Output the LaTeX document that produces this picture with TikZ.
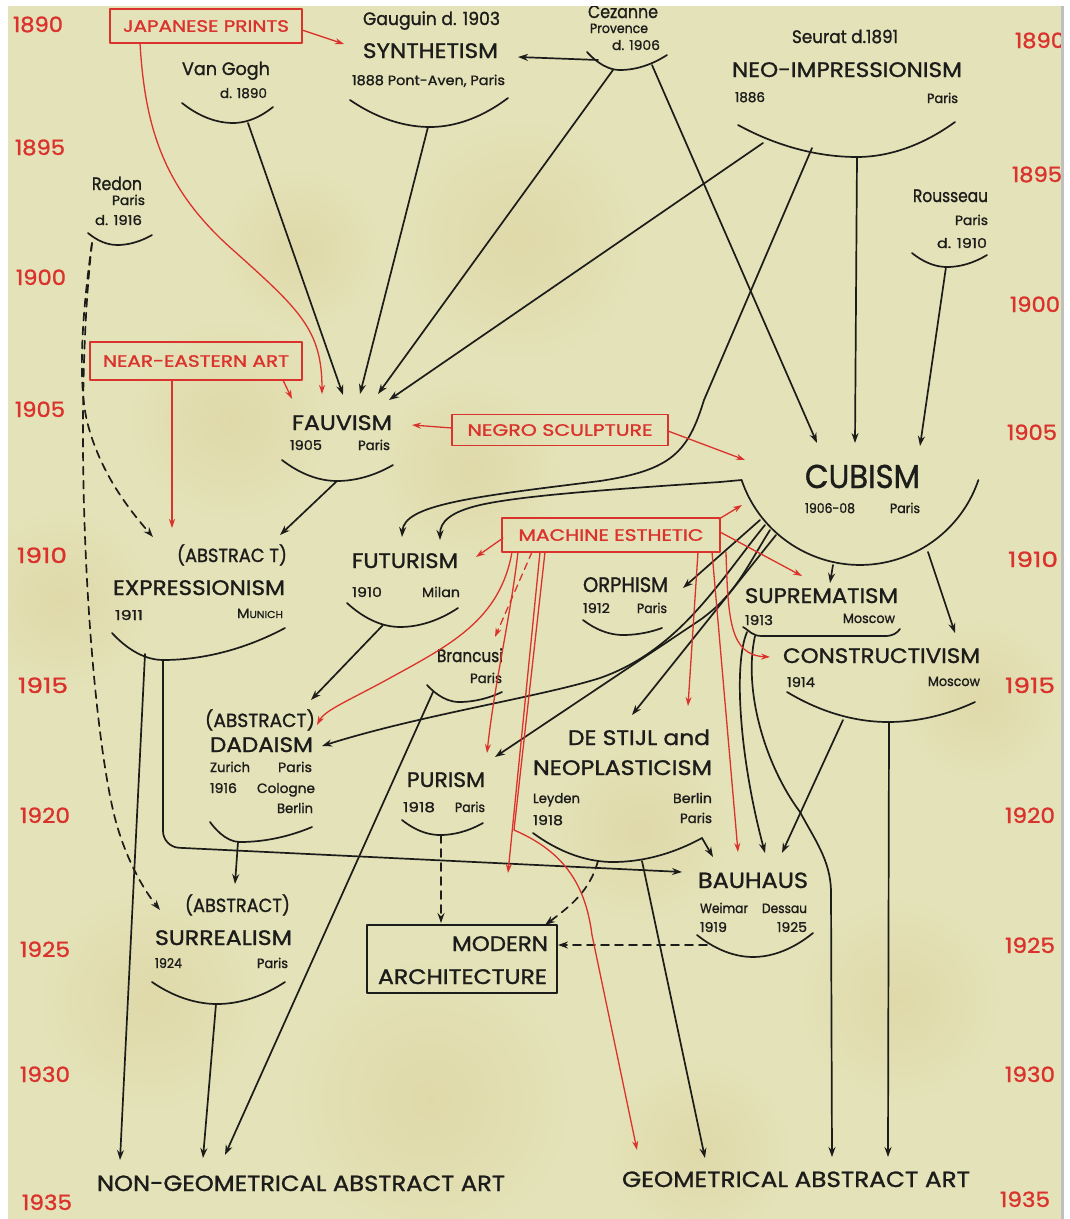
\documentclass[tikz,border=0pt]{standalone}
\usepackage{fontspec}
\setmainfont{Poppins}[FakeBold=1.2]
\usepackage{graphicx}
\usetikzlibrary{arrows.meta}
\definecolor{paper}{RGB}{228,226,184}
\definecolor{stain}{RGB}{214,198,138}
\definecolor{ink}{RGB}{28,28,26}
\definecolor{rink}{RGB}{218,50,44}
\newcommand\fw[2]{\resizebox{#1pt}{\height}{#2}}
\newcommand\fsm{\fontsize{13.5}{14}\selectfont}
\newcommand\fnm{\fontsize{18}{18}\selectfont}
\newcommand\fmv{\fontsize{21}{21}\selectfont}
\newcommand\fab{\fontsize{19}{19}\selectfont}
\newcommand\fyr{\fontsize{21}{21}\selectfont}
\newcommand\fbx{\fontsize{16.5}{17}\selectfont}
\newcommand\fcu{\fontsize{33}{33}\selectfont}
\newcommand\fbig{\fontsize{22}{22}\selectfont}
\begin{document}
\begin{tikzpicture}[x=1pt,y=-1pt,line cap=round,line join=round,
 blk/.style={draw=ink,line width=1.7pt},
 ar/.style={blk,-{Stealth[length=10pt,width=7pt]}},
 dar/.style={ar,dash pattern=on 8pt off 6pt},
 rar/.style={draw=rink,line width=1.3pt,-{Stealth[length=9pt,width=6pt]}},
 rdar/.style={rar,dash pattern=on 7pt off 5pt},
 lbl/.style={anchor=base west,inner sep=0pt,outer sep=0pt,text=ink},
 yr/.style={lbl,text=rink,font=\fyr},
 sm/.style={lbl,font=\fsm},
 nm/.style={lbl,font=\fnm},
 mv/.style={lbl,font=\fmv},
 ab/.style={lbl,font=\fab},
 rbox/.style={draw=rink,line width=1.4pt,text=rink,font=\fbx,inner sep=0pt},
]
\useasboundingbox (0,0) rectangle (1069,1219);
\fill[paper] (0,0) rectangle (1069,1219);
% stains
\foreach \sx/\sy/\sr in {520/240/120, 470/470/90, 230/420/100, 60/600/90, 150/1000/110, 430/1100/140, 640/830/90, 980/700/80, 900/1000/100, 300/250/80, 700/1150/90}
  \shade[inner color=stain,outer color=paper,opacity=0.3] (\sx,\sy) circle (\sr);

% years
\foreach \x/\y/\t in {13/32/1890,15/155/1895,16/285/1900,15/417/1905,17/563/1910,18/693/1915,20/823/1920,20/957/1925,20/1082/1930,22/1210/1935}
  \node[yr] (yl\t) at (\x,\y) {\fw{50}{\t}};
\foreach \x/\y/\t in {1015/48/1890,1012/182/1895,1010/312/1900,1007/440/1905,1008/567/1910,1005/693/1915,1005/823/1920,1005/953/1925,1005/1082/1930,1000/1207/1935}
  \node[yr] (yr\t) at (\x,\y) {\fw{50}{\t}};

% red boxes
\node[rbox,minimum width=192pt,minimum height=34pt] (jap) at (206,26) {\fw{166}{JAPANESE PRINTS}};
\node[rbox,minimum width=212pt,minimum height=38pt] (near) at (196,361) {\fw{186}{NEAR-EASTERN ART}};
\node[rbox,minimum width=216pt,minimum height=31pt] (negro) at (560,430) {\fw{185}{NEGRO SCULPTURE}};
\node[rbox,minimum width=218pt,minimum height=34pt] (mach) at (611,535) {\fw{185}{MACHINE ESTHETIC}};
\node[draw=ink,line width=1.5pt,minimum width=190pt,minimum height=68pt,inner sep=0pt] (modbox) at (462,959) {};

% texts
\node[nm] (vg) at (182,75) {\fw{88}{Van Gogh}};
\node[sm] (vgd) at (220,98) {\fw{47}{d. 1890}};
\node[nm] (gau) at (363,25) {\fw{137}{Gauguin d. 1903}};
\node[mv] (syn) at (363,58) {\fw{135}{SYNTHETISM}};
\node[sm] (synd) at (352,85) {\fw{153}{1888 Pont-Aven, Paris}};
\node[nm] (cez) at (588,18) {\fw{70}{Cezanne}};
\node[sm] (cezp) at (590,33) {\fw{58}{Provence}};
\node[sm] (cezd) at (612,50) {\fw{48}{d. 1906}};
\node[nm] (seu) at (792,43) {\fw{106}{Seurat d.1891}};
\node[mv] (neo) at (732,77) {\fw{230}{NEO-IMPRESSIONISM}};
\node[sm] (neod) at (735,102) {\fw{30}{1886}};
\node[sm] (neop) at (927,103) {\fw{31}{Paris}};
\node[nm] (red) at (92,190) {\fw{50}{Redon}};
\node[sm] (redp) at (112,205) {\fw{33}{Paris}};
\node[sm] (redd) at (95,225) {\fw{47}{d. 1916}};
\node[nm] (rou) at (913,202) {\fw{75}{Rousseau}};
\node[sm] (roup) at (955,225) {\fw{33}{Paris}};
\node[sm] (roud) at (937,248) {\fw{50}{d. 1910}};
\node[mv] (fauv) at (292,430) {\fw{100}{FAUVISM}};
\node[sm] (fauvd) at (290,450) {\fw{32}{1905}};
\node[sm] (fauvp) at (358,450) {\fw{32}{Paris}};
\node[lbl,font=\fcu] (cub) at (805,488) {\fw{115}{CUBISM}};
\node[sm] (cubd) at (805,513) {\fw{50}{1906-08}};
\node[sm] (cubp) at (890,513) {\fw{30}{Paris}};
\node[ab] (expa) at (177,562) {\fw{110}{(ABSTRAC T)}};
\node[mv] (exp) at (113,595) {\fw{172}{EXPRESSIONISM}};
\node[sm] (expd) at (115,620) {\fw{28}{1911}};
\node[sm] (expp) at (237,618) {\fw{46}{M{\fontsize{10}{10}\selectfont UNICH}}};
\node[mv] (fut) at (352,568) {\fw{106}{FUTURISM}};
\node[sm] (futd) at (352,597) {\fw{30}{1910}};
\node[sm] (futp) at (422,597) {\fw{38}{Milan}};
\node[mv] (orph) at (583,592) {\fw{85}{ORPHISM}};
\node[sm] (orphd) at (583,613) {\fw{27}{1912}};
\node[sm] (orphp) at (637,613) {\fw{30}{Paris}};
\node[mv] (supr) at (745,603) {\fw{153}{SUPREMATISM}};
\node[sm] (suprd) at (745,625) {\fw{28}{1913}};
\node[sm] (suprp) at (843,623) {\fw{52}{Moscow}};
\node[mv] (cons) at (783,663) {\fw{197}{CONSTRUCTIVISM}};
\node[sm] (consd) at (787,687) {\fw{28}{1914}};
\node[sm] (consp) at (928,686) {\fw{52}{Moscow}};
\node[nm] (bra) at (437,662) {\fw{66}{Brancusi}};
\node[sm] (brap) at (470,683) {\fw{32}{Paris}};
\node[ab] (dadaa) at (205,727) {\fw{110}{(ABSTRACT)}};
\node[mv] (dada) at (210,752) {\fw{103}{DADAISM}};
\node[sm] (dadaz) at (210,772) {\fw{40}{Zurich}};
\node[sm] (dadap) at (278,772) {\fw{34}{Paris}};
\node[sm] (dadad) at (210,793) {\fw{27}{1916}};
\node[sm] (dadac) at (257,793) {\fw{58}{Cologne}};
\node[sm] (dadab) at (277,813) {\fw{36}{Berlin}};
\node[mv] (pur) at (407,787) {\fw{78}{PURISM}};
\node[sm] (purd) at (403,812) {\fw{32}{1918}};
\node[sm] (purp) at (455,812) {\fw{30}{Paris}};
\node[mv] (stij) at (568,745) {\fw{142}{DE STIJL and}};
\node[mv] (neopl) at (533,775) {\fw{179}{NEOPLASTICISM}};
\node[sm] (stl) at (533,803) {\fw{47}{Leyden}};
\node[sm] (std) at (533,825) {\fw{30}{1918}};
\node[sm] (stb) at (673,803) {\fw{39}{Berlin}};
\node[sm] (stp) at (680,823) {\fw{32}{Paris}};
\node[lbl,font=\fbig] (bau) at (698,888) {\fw{110}{BAUHAUS}};
\node[sm] (bauw) at (700,913) {\fw{48}{Weimar}};
\node[sm] (baude) at (762,913) {\fw{45}{Dessau}};
\node[sm] (baud1) at (700,932) {\fw{27}{1919}};
\node[sm] (baud2) at (777,932) {\fw{30}{1925}};
\node[ab] (sura) at (185,912) {\fw{105}{(ABSTRACT)}};
\node[mv] (sur) at (155,945) {\fw{137}{SURREALISM}};
\node[sm] (surd) at (155,968) {\fw{27}{1924}};
\node[sm] (surp) at (257,968) {\fw{31}{Paris}};
\node[lbl,font=\fmv] (mod1) at (452,951) {\fw{96}{MODERN}};
\node[lbl,font=\fmv] (mod2) at (378,984) {\fw{169}{ARCHITECTURE}};
\node[lbl,font=\fbig] (ngeo) at (97,1191) {\fw{408}{NON-GEOMETRICAL ABSTRACT ART}};
\node[lbl,font=\fbig] (geo) at (622,1187) {\fw{348}{GEOMETRICAL ABSTRACT ART}};

% arcs
\draw[blk] (182,103) parabola bend (233,123) (273,107);
\draw[blk] (350,100) parabola bend (430,127) (508,98);
\draw[blk] (587,52) parabola bend (620,70) (667,55);
\draw[blk] (738,125) parabola bend (857,157) (955,122);
\draw[blk] (88,233) parabola bend (117,245) (152,235);
\draw[blk] (912,253) parabola bend (947,267) (987,255);
\draw[blk] (282,460) parabola bend (337,481) (393,465);
\coordinate (cubL) at (741.6,480);
\draw[blk] (cubL) arc[start angle=161.3,end angle=18.7,radius=125];
\draw[blk] (743,627) .. controls (750,631) and (752,636) .. (762,636) -- (885,636) .. controls (893,636) and (897,633) .. (900,629);
\draw[blk] (787,692) parabola bend (888,722) (975,702);
\draw[blk] (583,620) parabola bend (623,635) (662,628);
\draw[blk] (347,603) parabola bend (400,627) (458,608);
\draw[blk] (427,685) parabola bend (459,702) (502,692);
\draw[blk] (112,633) parabola bend (163,660) (285,628);
\draw[blk] (210,822) parabola bend (240,842) (312,827);
\draw[blk] (152,982) parabola bend (217,1004) (285,982);
\draw[blk] (402,820) parabola bend (440,835) (483,823);
\draw[blk] (533,833) parabola bend (613,862) (702,838);
\draw[blk] (697,935) parabola bend (753,957) (813,933);

% sources
\coordinate (vgS) at (248,123);
\coordinate (synS) at (428,127);
\coordinate (cezS1) at (613,70);
\coordinate (cezS2) at (598,60);
\coordinate (cezS3) at (652,65);
\coordinate (neoS1) at (763,143);
\coordinate (neoS2) at (812,148);
\coordinate (neoS3) at (857,157);
\coordinate (rouS) at (946,267);
\coordinate (redS) at (92,243);
\coordinate (fauvS) at (337,481);
\coordinate (cubS1) at (833,565);
\coordinate (cubS2) at (928,552);
\coordinate (cubO) at (760,520);
\coordinate (cubD) at (765,525);
\coordinate (cubP) at (770,530);
\coordinate (cubN) at (776,535);
\coordinate (suprS1) at (747,632);
\coordinate (suprS2) at (755,636);
\coordinate (consS1) at (843,720);
\coordinate (consS2) at (889,722);
\coordinate (futS) at (383,625);
\coordinate (expS1) at (145,654);
\coordinate (expS2) at (163,660);
\coordinate (dadaS) at (238,842);
\coordinate (surS) at (216,1004);
\coordinate (brS) at (433,692);
\coordinate (purS) at (441,835);
\coordinate (stS1) at (702,838);
\coordinate (stS2) at (598,861);
\coordinate (stS3) at (642,861);
\coordinate (bauS) at (707,945);
\coordinate (japS1) at (140,43);
\coordinate (japS2) at (302,30);
\coordinate (nearS1) at (283,380);
\coordinate (nearS2) at (172,380);
\coordinate (negS1) at (452,428);
\coordinate (negS2) at (668,431);
\coordinate (mFut) at (503,538);
\coordinate (mCub) at (719,519);
\coordinate (mSup) at (720,532);
\coordinate (mCon) at (726,552);
\coordinate (mBau) at (712,552);
\coordinate (mSt) at (698,552);
\coordinate (mPur) at (518,552);
\coordinate (mBr) at (532,552);
\coordinate (mDad) at (512,552);
\coordinate (mMod) at (540,552);
\coordinate (mGeo) at (545,552);
% targets
\coordinate (fauvT1) at (292,399);
\coordinate (fauvT2) at (322,394);
\coordinate (fauvT3) at (343,395);
\coordinate (fauvT4) at (360,394);
\coordinate (fauvT5) at (378,394);
\coordinate (fauvT6) at (389,400);
\coordinate (fauvT7) at (412,425);
\coordinate (synT) at (518,57);
\coordinate (synT2) at (344,44);
\coordinate (cubT1) at (817,443);
\coordinate (cubT2) at (855,443);
\coordinate (cubT3) at (920,446);
\coordinate (cubT4) at (745,460);
\coordinate (cubT5) at (742,505);
\coordinate (futT1) at (402,537);
\coordinate (futT2) at (440,540);
\coordinate (futT3) at (476,557);
\coordinate (expT1) at (153,537);
\coordinate (expT2) at (172,528);
\coordinate (expT3) at (280,535);
\coordinate (orT) at (683,588);
\coordinate (supT1) at (830,583);
\coordinate (supT2) at (802,576);
\coordinate (conT1) at (955,633);
\coordinate (conT2) at (770,657);
\coordinate (brT) at (495,637);
\coordinate (dadT1) at (311,700);
\coordinate (dadT2) at (317,725);
\coordinate (dadT3) at (322,746);
\coordinate (purT1) at (487,753);
\coordinate (purT2) at (495,757);
\coordinate (stT1) at (688,706);
\coordinate (stT2) at (632,715);
\coordinate (surT1) at (235,884);
\coordinate (surT2) at (160,910);
\coordinate (bauT1) at (682,872);
\coordinate (bauT2) at (713,857);
\coordinate (bauT3) at (738,852);
\coordinate (bauT4) at (765,853);
\coordinate (bauT5) at (782,853);
\coordinate (modT1) at (441,923);
\coordinate (modT2) at (545,925);
\coordinate (modT3) at (558,945);
\coordinate (modT4) at (508,873);
\coordinate (ngT1) at (120,1160);
\coordinate (ngT2) at (203,1158);
\coordinate (ngT3) at (225,1155);
\coordinate (gT1) at (637,1150);
\coordinate (gT2) at (705,1158);
\coordinate (gT3) at (832,1157);
\coordinate (gT4) at (888,1157);

% black connectors
\draw[ar] (vgS) -- (fauvT3);
\draw[ar] (synS) -- (fauvT4);
\draw[ar] (cezS1) -- (fauvT5);
\draw[ar] (neoS1) -- (fauvT6);
\draw[ar] (cezS2) -- (synT);
\draw[ar] (cezS3) -- (cubT1);
\draw[ar] (neoS3) -- (cubT2);
\draw[ar] (rouS) -- (cubT3);
\draw[ar] (neoS2) -- (704,400) .. controls (688,452) and (672,470) .. (600,481) .. controls (470,497) and (404,505) .. (futT1);
\draw[ar] (cubL) -- (720,482) .. controls (600,490) and (520,496) .. (480,505) .. controls (450,512) and (440,522) .. (futT2);
\draw[ar] (fauvS) -- (expT3);
\draw[ar] (cubS1) -- (supT1);
\draw[ar] (cubS2) -- (conT1);
\draw[ar] (cubO) -- (orT);
\draw[ar] (cubD) .. controls (720,580) and (680,650) .. (600,678) .. controls (540,697) and (420,715) .. (dadT3);
\draw[ar] (cubP) .. controls (745,570) and (735,595) .. (700,620) -- (purT2);
\draw[ar] (cubN) -- (stT2);
\draw[ar] (futS) -- (dadT1);
\draw[ar] (expS1) -- (ngT1);
\draw[ar,rounded corners=16pt] (expS2) -- (163,847) -- (bauT1);
\draw[ar] (dadaS) -- (surT1);
\draw[ar] (surS) -- (ngT2);
\draw[ar] (brS) -- (ngT3);
\draw[ar] (stS1) -- (bauT2);
\draw[ar] (stS3) -- (gT2);
\draw[ar] (suprS1) .. controls (733,665) and (740,760) .. (bauT4);
\draw[ar] (suprS2) .. controls (743,690) and (765,765) .. (800,812) .. controls (815,840) and (830,860) .. (831,890) -- (gT3);
\draw[ar] (consS1) -- (bauT5);
\draw[ar] (consS2) -- (gT4);
% dashed
\draw[dar] (redS) .. controls (84,300) and (76,380) .. (88,425) .. controls (100,470) and (125,505) .. (expT1);
\draw[dar] (redS) .. controls (72,420) and (88,700) .. (113,810) .. controls (122,850) and (140,885) .. (surT2);
\draw[dar] (purS) -- (modT1);
\draw[dar] (stS2) .. controls (590,890) and (572,905) .. (modT2);
\draw[dar] (bauS) -- (modT3);
% red connectors
\draw[rar] (japS1) .. controls (145,130) and (165,190) .. (233,250) .. controls (300,310) and (322,330) .. (fauvT2);
\draw[rar] (japS2) -- (synT2);
\draw[rar] (nearS1) -- (fauvT1);
\draw[rar] (nearS2) -- (expT2);
\draw[rar] (negS1) -- (fauvT7);
\draw[rar] (negS2) -- (cubT4);
\draw[rar] (mFut) -- (futT3);
\draw[rar] (mCub) -- (cubT5);
\draw[rar] (mSup) -- (supT2);
\draw[rar] (mCon) .. controls (728,620) and (730,655) .. (conT2);
\draw[rar] (mBau) -- (bauT3);
\draw[rar] (mSt) -- (stT1);
\draw[rar] (mPur) .. controls (510,620) and (495,680) .. (purT1);
\draw[rdar] (mBr) -- (brT);
\draw[rar] (mDad) .. controls (500,620) and (450,645) .. (390,678) .. controls (350,700) and (325,710) .. (dadT2);
\draw[rar] (mMod) -- (modT4);
\draw[rar] (mGeo) -- (514,830) .. controls (560,850) and (585,880) .. (592,935) -- (gT1);

% page margins
\fill[white] (0,0) rectangle (1069,6);
\fill[white] (0,0) rectangle (8,1219);
\fill[gray!50] (1061,6) rectangle (1064,1219);
\fill[white] (1064,0) rectangle (1069,1219);
\end{tikzpicture}
\end{document}
